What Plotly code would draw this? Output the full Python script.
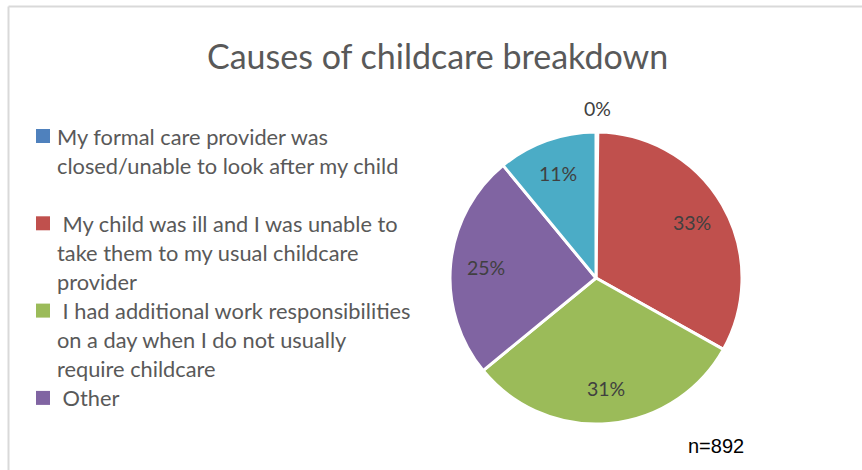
import math
import plotly.graph_objects as go

W, H = 862, 470

# Survey responses: cause of the most recent childcare breakdown (share of respondents, %)
categories = [
    "My formal care provider was closed/unable to look after my child",
    "My child was ill and I was unable to take them to my usual childcare provider",
    "I had additional work responsibilities on a day when I do not usually require childcare",
    "Other",
    "Not stated",
]
shares = [0.2, 33, 31, 25, 11]
colors = ["#4F81BD", "#C0504D", "#9BBB59", "#8064A2", "#4BACC6"]

# Legend text as it wraps in the key (the last category is not listed in the key)
legend_lines = [
    ["My formal care provider was", "closed/unable to look after my child", ""],
    [" My child was ill and I was unable to", "take them to my usual childcare", "provider"],
    [" I had additional work responsibilities", "on a day when I do not usually", "require childcare"],
    [" Other"],
]

n_respondents = 892
title = "Causes of childcare breakdown"


def px_x(x):
    return x / W


def px_y(y):
    return 1 - y / H


fig = go.Figure()

# Pie centred at (596, 278) px with a radius of about 146 px, starting at 12 o'clock
cx, cy, r = 596, 278, 146
fig.add_trace(go.Pie(
    labels=categories,
    values=shares,
    sort=False,
    direction="clockwise",
    rotation=0,
    marker=dict(colors=colors, line=dict(color="white", width=3)),
    textinfo="none",
    showlegend=False,
    hoverinfo="skip",
    domain=dict(x=[px_x(cx - r), px_x(cx + r)], y=[px_y(cy + r), px_y(cy - r)]),
))

annotations = []
shapes = []

# Percentage labels at each slice's mid-angle; tiny slices get their label outside
total = sum(shares)
cum = 0.0
for v in shares:
    frac = v / total
    mid = (cum + frac / 2) * 2 * math.pi
    cum += frac
    dist = r * 0.76 if frac > 0.03 else r + 24
    lx = cx + dist * math.sin(mid)
    ly = cy - dist * math.cos(mid)
    annotations.append(dict(
        text=f"{round(frac * 100)}%", xref="paper", yref="paper",
        x=px_x(lx), y=px_y(ly), xanchor="center", yanchor="middle",
        showarrow=False, font=dict(family="Lato", size=19.5, color="#404040"),
    ))

# Hand-laid legend: colour square plus wrapped lines of text
base0, step = 143, 29.1
line_idx = 0
for i, lines in enumerate(legend_lines):
    b = base0 + step * line_idx
    shapes.append(dict(
        type="rect", xref="paper", yref="paper",
        x0=px_x(36), x1=px_x(50), y0=px_y(b), y1=px_y(b - 14),
        fillcolor=colors[i], line=dict(width=0),
    ))
    for j, txt in enumerate(lines):
        bl = base0 + step * (line_idx + j)
        if txt:
            annotations.append(dict(
                text=txt, xref="paper", yref="paper",
                x=px_x(55), y=px_y(bl - 7), xanchor="left", yanchor="middle",
                showarrow=False, font=dict(family="Lato", size=21.8, color="#595959"),
            ))
    line_idx += len(lines)

# Sample size note
annotations.append(dict(
    text=f"n={n_respondents}", xref="paper", yref="paper",
    x=px_x(686), y=px_y(446), xanchor="left", yanchor="middle",
    showarrow=False, font=dict(family="Liberation Sans", size=20, color="#000000"),
))

# Title
annotations.append(dict(
    text=title, xref="paper", yref="paper",
    x=px_x(437), y=px_y(56), xanchor="center", yanchor="middle",
    showarrow=False, font=dict(family="Lato", size=34, color="#595959"),
))

# Chart-area frame (top and left edges visible)
shapes.append(dict(type="line", xref="paper", yref="paper",
                   x0=px_x(8.5), x1=1, y0=px_y(6.5), y1=px_y(6.5),
                   line=dict(color="#d9d9d9", width=2)))
shapes.append(dict(type="line", xref="paper", yref="paper",
                   x0=px_x(8.5), x1=px_x(8.5), y0=px_y(6.5), y1=0,
                   line=dict(color="#d9d9d9", width=2)))

fig.update_layout(
    width=W, height=H,
    margin=dict(l=0, r=0, t=0, b=0),
    paper_bgcolor="white",
    plot_bgcolor="white",
    annotations=annotations,
    shapes=shapes,
)

fig.write_html("out.html")
